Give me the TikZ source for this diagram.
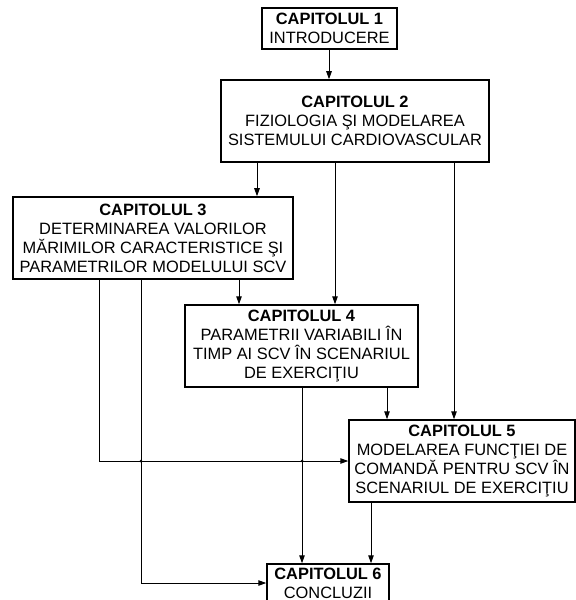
\documentclass[tikz,border=0pt]{standalone}
\usepackage{fontspec}
\setmainfont{Liberation Sans}
\usetikzlibrary{arrows.meta}
\tikzset{
  box/.style={draw, line width=1.5bp, align=center, inner sep=0pt, font=\fontsize{16.4bp}{19bp}\selectfont},
  arr/.style={line width=1bp, -{Triangle[length=8bp,width=5.5bp]}},
  dotj/.style={fill, circle, inner sep=0pt, minimum size=3bp}
}
\begin{document}
\begin{tikzpicture}[x=1bp,y=-1bp]
\useasboundingbox (0,0) rectangle (576,600);
\node[box, minimum width=135bp, minimum height=41bp] (b1) at (329.5,28.5) {\textbf{CAPITOLUL 1}\\INTRODUCERE};
\node[box, minimum width=268bp, minimum height=82bp] (b2) at (355,121) {\textbf{CAPITOLUL 2}\\FIZIOLOGIA ŞI MODELAREA\\SISTEMULUI CARDIOVASCULAR};
\node[box, minimum width=280bp, minimum height=82bp] (b3) at (153,238) {\textbf{CAPITOLUL 3}\\DETERMINAREA VALORILOR\\MĂRIMILOR CARACTERISTICE ŞI\\PARAMETRILOR MODELULUI SCV};
\node[box, minimum width=233bp, minimum height=82bp] (b4) at (301.5,346) {\textbf{CAPITOLUL 4}\\PARAMETRII VARIABILI ÎN\\TIMP AI SCV ÎN SCENARIUL\\DE EXERCIŢIU};
\node[box, minimum width=226bp, minimum height=82bp] (b5) at (462,461) {\textbf{CAPITOLUL 5}\\MODELAREA FUNCŢIEI DE\\COMANDĂ PENTRU SCV ÎN\\SCENARIUL DE EXERCIŢIU};
\node[box, minimum width=122bp, minimum height=38bp] (b6) at (328,583) {\textbf{CAPITOLUL 6}\\CONCLUZII};

\coordinate (xa) at (329,0);
\coordinate (xb) at (257,0);
\coordinate (xc) at (335,0);
\coordinate (xd) at (454,0);
\coordinate (xe) at (239,0);
\coordinate (xf) at (99,0);
\coordinate (xg) at (141,0);
\coordinate (xh) at (302,0);
\coordinate (xi) at (387,0);
\coordinate (xj) at (371,0);

\draw[arr] (xa |- b1.south) -- (xa |- b2.north);
\draw[arr] (xb |- b2.south) -- (xb |- b3.north);
\draw[arr] (xc |- b2.south) -- (xc |- b4.north);
\draw[arr] (xd |- b2.south) -- (xd |- b5.north);
\draw[arr] (xe |- b3.south) -- (xe |- b4.north);
\draw[arr] (xf |- b3.south) -- (xf |- b5.west) -- (b5.west);
\draw[arr] (xg |- b3.south) -- (xg |- b6.west) -- (b6.west);
\draw[arr] (xh |- b4.south) -- (xh |- b6.north);
\draw[arr] (xi |- b4.south) -- (xi |- b5.north);
\draw[arr] (xj |- b5.south) -- (xj |- b6.north);

\node[dotj] (d1) at (xg |- b5.west) {};
\node[dotj] (d2) at (xh |- b5.west) {};
\end{tikzpicture}
\end{document}
